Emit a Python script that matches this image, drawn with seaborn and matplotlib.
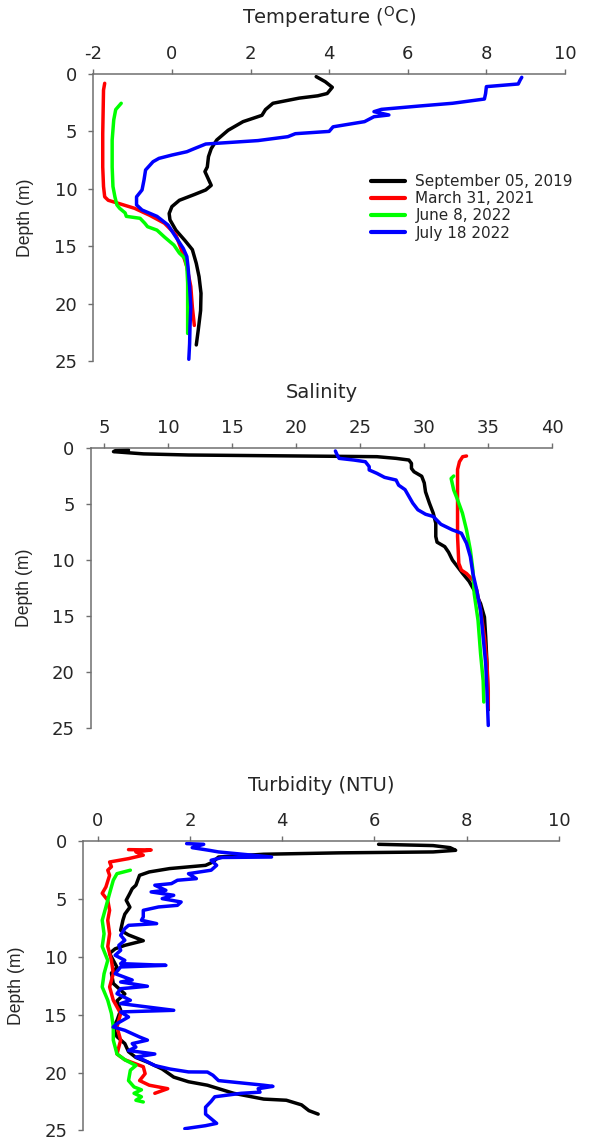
# -*- coding: utf-8 -*-
"""
Depth profiles: temperature, salinity, turbidity (4 cruises)
"""
import numpy as np
import pandas as pd
import seaborn as sns
import matplotlib.pyplot as plt

# ===== data =====
DATES = ["September 05, 2019", "March 31, 2021", "June 8, 2022", "July 18 2022"]
COLORS = ["#000000", "#FF0000", "#00FF00", "#0000FF"]

# --- temperature (°C) ---
t_sep_d = [0.23, 0.67, 1.16, 1.7, 1.9, 2.1, 2.55, 3.1, 3.6, 4.15, 4.9, 5.75, 6.5, 7.2, 8.1, 8.5, 8.95, 9.7,
           10.1, 10.5, 11.0, 11.55, 12.15, 12.7, 13.6, 14.5, 15.3, 16.5, 17.65, 19.1, 20.6, 22.3, 23.6]
t_sep_v = [3.67, 3.9, 4.08, 3.95, 3.71, 3.24, 2.57, 2.38, 2.29, 1.81, 1.43, 1.14, 1.0, 0.93, 0.9, 0.84, 0.9, 1.0,
           0.86, 0.57, 0.19, 0.0, -0.07, -0.05, 0.1, 0.33, 0.52, 0.62, 0.69, 0.74, 0.73, 0.67, 0.62]
t_mar_d = [0.81, 1.4, 5.2, 8.1, 9.8, 10.7, 11.0, 11.3, 11.7, 12.3, 13.0, 14.0, 15.3, 16.8, 18.5, 20.3, 21.9]
t_mar_v = [-1.71, -1.74, -1.76, -1.76, -1.74, -1.71, -1.62, -1.33, -0.95, -0.57, -0.19, 0.1, 0.24, 0.38, 0.48, 0.52, 0.57]
t_jun_d = [2.55, 3.1, 4.0, 5.75, 8.1, 9.8, 10.7, 11.4, 11.7, 12.1, 12.4, 12.57, 13.0, 13.3, 13.6, 14.2, 14.9,
           15.6, 16.05, 16.8, 18.2, 19.7, 21.1, 22.6]
t_jun_v = [-1.29, -1.43, -1.48, -1.52, -1.52, -1.5, -1.45, -1.4, -1.33, -1.19, -1.16, -0.81, -0.69, -0.62, -0.38,
           -0.19, 0.05, 0.19, 0.33, 0.38, 0.4, 0.4, 0.4, 0.4]
t_jul_d = [0.29, 0.52, 0.87, 1.1, 1.7, 2.18, 2.55, 2.79, 3.08, 3.28, 3.57, 3.72, 4.15, 4.6, 5.0, 5.2, 5.46, 5.8,
           6.1, 6.5, 6.77, 7.06, 7.35, 7.64, 8.36, 9.23, 10.1, 10.7, 11.4, 11.85, 12.4, 13.15, 14.2, 15.2, 15.9,
           16.8, 18.5, 20.3, 22.0, 23.5, 24.85]
t_jul_v = [8.9, 8.86, 8.81, 8.0, 7.98, 7.95, 7.14, 6.29, 5.33, 5.14, 5.52, 5.14, 4.9, 4.1, 4.0, 3.14, 2.95, 2.19,
           0.86, 0.57, 0.38, 0.0, -0.33, -0.48, -0.67, -0.71, -0.76, -0.9, -0.9, -0.76, -0.38, -0.1, 0.1, 0.29, 0.38,
           0.41, 0.45, 0.48, 0.46, 0.45, 0.43]

# --- salinity ---
s_sep_d = [0.15, 0.2, 0.3, 0.4, 0.5, 0.6, 0.69, 0.75, 0.9, 1.05, 1.35, 1.8, 2.1, 2.5, 3.1, 3.9, 4.9, 5.8, 6.7, 7.9,
           8.4, 8.8, 9.3, 10.0, 10.6, 11.2, 11.9, 12.7, 13.9, 15.1, 16.9, 19.3, 21.4, 23.4]
s_sep_v = [6.9, 5.9, 5.73, 6.9, 8.08, 11.6, 20.4, 26.3, 27.8, 28.8, 29.0, 29.0, 29.2, 29.8, 30.0, 30.1, 30.4, 30.7,
           30.9, 30.9, 31.0, 31.6, 31.9, 32.2, 32.6, 33.0, 33.5, 33.9, 34.4, 34.7, 34.8, 34.9, 34.95, 35.0]
s_mar_d = [0.69, 0.75, 1.2, 1.9, 4.9, 7.9, 10.3, 10.9, 11.2, 11.8, 12.7, 14.5, 16.9, 19.3, 21.7, 23.3]
s_mar_v = [33.3, 33.0, 32.75, 32.6, 32.6, 32.6, 32.7, 32.9, 33.3, 33.8, 34.1, 34.4, 34.7, 34.9, 35.0, 35.0]
s_jun_d = [2.48, 2.7, 3.73, 4.6, 5.8, 7.3, 9.1, 10.9, 13.0, 15.4, 18.4, 20.8, 22.7]
s_jun_v = [32.3, 32.1, 32.3, 32.6, 32.98, 33.3, 33.6, 33.8, 33.9, 34.2, 34.4, 34.6, 34.65]
s_jul_d = [0.24, 0.6, 0.9, 1.05, 1.2, 1.64, 1.94, 2.24, 2.6, 2.84, 3.3, 3.7, 4.3, 4.9, 5.5, 5.9, 6.1, 6.8, 7.3, 7.6,
           8.5, 9.7, 11.2, 12.7, 14.5, 16.9, 19.3, 21.7, 24.8]
s_jul_v = [23.06, 23.2, 23.35, 24.5, 25.4, 25.7, 25.7, 26.3, 26.9, 27.8, 28.0, 28.5, 28.8, 29.1, 29.5, 30.1, 30.7,
           31.3, 32.2, 32.9, 33.3, 33.6, 33.8, 34.1, 34.4, 34.6, 34.8, 34.9, 35.0]

# --- turbidity (NTU) ---
n_sep_d = [0.26, 0.37, 0.55, 0.78, 0.92, 1.0, 1.12, 1.36, 1.79, 2.08, 2.36, 2.65, 2.94, 3.8, 4.1, 4.5, 5.1, 5.7,
           6.3, 6.8, 7.7, 8.1, 8.6, 9.0, 9.3, 9.7, 10.3, 10.9, 11.4, 12.3, 13.2, 13.8, 14.6, 15.5, 16.1, 16.9, 17.5,
           18.2, 18.7, 19.1, 19.7, 20.4, 20.8, 21.1, 21.8, 22.3, 22.4, 22.8, 23.3, 23.6]
n_sep_v = [6.09, 7.27, 7.64, 7.76, 7.27, 5.23, 3.6, 2.62, 2.5, 2.34, 1.56, 1.12, 0.91, 0.83, 0.75, 0.7, 0.62, 0.7,
           0.59, 0.55, 0.5, 0.67, 0.99, 0.59, 0.38, 0.26, 0.34, 0.42, 0.3, 0.34, 0.59, 0.42, 0.5, 0.42, 0.34, 0.42,
           0.59, 0.67, 0.83, 1.08, 1.4, 1.65, 1.97, 2.38, 2.95, 3.6, 4.09, 4.42, 4.58, 4.78]
n_mar_d = [0.72, 0.75, 0.92, 1.2, 1.5, 1.79, 2.2, 2.5, 2.94, 3.95, 4.5, 5.1, 5.97, 6.83, 8.0, 9.1, 10.3, 11.45,
           12.6, 13.75, 14.9, 16.06, 17.2, 18.4, 18.9, 19.5, 20.1, 20.7, 21.1, 21.4, 21.8]
n_mar_v = [0.67, 1.16, 0.83, 0.99, 0.67, 0.26, 0.3, 0.22, 0.26, 0.18, 0.1, 0.22, 0.26, 0.22, 0.26, 0.22, 0.3, 0.34,
           0.26, 0.34, 0.5, 0.42, 0.5, 0.42, 0.59, 0.99, 1.03, 0.91, 1.12, 1.52, 1.24]
n_jun_d = [2.5, 2.8, 3.37, 4.5, 5.68, 6.83, 8.0, 9.1, 10.3, 11.45, 12.6, 13.75, 14.9, 16.06, 17.2, 18.4, 18.9,
           19.4, 19.8, 20.7, 21.25, 21.5, 21.8, 22.1, 22.4, 22.55]
n_jun_v = [0.71, 0.42, 0.34, 0.26, 0.18, 0.1, 0.14, 0.1, 0.22, 0.14, 0.1, 0.22, 0.3, 0.34, 0.34, 0.42, 0.59, 0.83,
           0.71, 0.67, 0.79, 0.95, 0.79, 0.95, 0.83, 0.99]
n_jul_d = [0.2, 0.26, 0.55, 0.78, 0.92, 1.36, 1.4, 1.64, 2.08, 2.5, 2.8, 3.23, 3.37, 3.66, 3.8, 4.24, 4.38, 4.67,
           4.96, 5.25, 5.54, 5.68, 5.97, 6.55, 6.83, 7.12, 7.27, 7.55, 8.13, 8.56, 9.0, 9.43, 9.86, 10.3, 10.58,
           10.73, 10.87, 11.45, 12.0, 12.17, 12.54, 12.75, 13.18, 13.75, 14.04, 14.62, 14.76, 15.2, 15.77, 16.06,
           16.35, 16.93, 17.2, 17.5, 17.8, 18.1, 18.4, 18.66, 18.9, 19.4, 19.7, 19.95, 19.96, 20.24, 20.7, 21.1,
           21.2, 21.4, 21.7, 21.8, 22.1, 22.5, 23.0, 23.6, 24.0, 24.4, 24.6, 24.86]
n_jul_v = [1.93, 2.3, 2.05, 2.42, 2.62, 3.77, 2.7, 2.46, 2.58, 2.46, 1.97, 2.14, 1.73, 1.6, 1.24, 1.48, 1.16, 1.65,
           1.4, 1.81, 1.73, 1.32, 0.99, 0.99, 0.95, 1.28, 0.67, 0.59, 0.5, 0.59, 0.46, 0.5, 0.38, 0.59, 0.5, 1.48,
           0.5, 0.38, 0.75, 0.5, 1.08, 0.5, 0.42, 0.71, 0.5, 1.65, 0.5, 0.67, 0.42, 0.34, 0.59, 0.91, 1.08, 0.75,
           0.83, 0.67, 1.24, 0.83, 0.99, 1.24, 1.57, 1.97, 2.38, 2.5, 2.62, 3.6, 3.8, 3.48, 3.52, 3.11, 2.54, 2.46,
           2.34, 2.34, 2.46, 2.58, 2.34, 1.89]


def long_df(pairs):
    frames = []
    for date, (d, v) in zip(DATES, pairs):
        frames.append(pd.DataFrame({"depth": d, "value": v, "date": date}))
    return pd.concat(frames, ignore_index=True)


df_t = long_df([(t_sep_d, t_sep_v), (t_mar_d, t_mar_v), (t_jun_d, t_jun_v), (t_jul_d, t_jul_v)])
df_s = long_df([(s_sep_d, s_sep_v), (s_mar_d, s_mar_v), (s_jun_d, s_jun_v), (s_jul_d, s_jul_v)])
df_n = long_df([(n_sep_d, n_sep_v), (n_mar_d, n_mar_v), (n_jun_d, n_jun_v), (n_jul_d, n_jul_v)])

# ===== plot =====
sns.set_style("ticks")
plt.rcParams["font.family"] = ["DejaVu Sans"]
plt.rcParams["axes.unicode_minus"] = False
palette = dict(zip(DATES, COLORS))

W, H = 590, 1142
fig = plt.figure(figsize=(W / 100, H / 100), dpi=100)
# axes boxes in pixels: left, right, top, bottom
boxes = [(93.3, 565.0, 74.0, 361.0), (90.7, 552.3, 448.3, 727.7), (83.3, 559.0, 841.3, 1130.3)]
axes = [fig.add_axes([l / W, 1 - b / H, (r - l) / W, (b - t) / H]) for l, r, t, b in boxes]
ylabel_x = [34.0, 33.5, 25.5]  # right edge of rotated "Depth (m)", px

panels = [
    (df_t, r"Temperature ($^{\mathrm{O}}$C)", (-2, 10), np.arange(-2, 11, 2), True),
    (df_s, "Salinity", (3.95, 40), np.arange(5, 41, 5), False),
    (df_n, "Turbidity (NTU)", (-0.31, 10), np.arange(0, 11, 2), False),
]

for ax, box, lx, (df, title, xlim, xticks, show_legend) in zip(axes, boxes, ylabel_x, panels):
    sns.lineplot(data=df, x="value", y="depth", hue="date", palette=palette, hue_order=DATES,
                 sort=False, estimator=None, orient="y", linewidth=2.5, ax=ax, legend=show_legend)
    ax.set_xlim(*xlim)
    ax.set_ylim(25, 0)
    ax.set_xticks(xticks)
    ax.set_yticks(np.arange(0, 26, 5))
    ax.xaxis.tick_top()
    ax.xaxis.set_label_position("top")
    ax.set_xlabel(title, fontsize=14, labelpad=15)
    ax.set_ylabel("Depth (m)", fontsize=12.7, family=["Liberation Sans", "DejaVu Sans"])
    ax.yaxis.set_label_coords((lx - box[0]) / (box[1] - box[0]), 0.5)
    ax.tick_params(labelsize=13, length=3.6, width=1, color="#6f6f6f")
    ax.tick_params(axis="x", pad=4.5)
    ax.tick_params(axis="y", pad=8)
    for side in ["right", "bottom"]:
        ax.spines[side].set_visible(False)
    for side in ["top", "left"]:
        ax.spines[side].set_color("#6f6f6f")
        ax.spines[side].set_linewidth(1.1)

leg = axes[0].legend(loc="upper left", bbox_to_anchor=(0.589, 0.652), frameon=False, fontsize=11,
                     handlelength=2.2, handletextpad=0.7, labelspacing=0.15, borderpad=0, borderaxespad=0)
for line in leg.get_lines():
    line.set_linewidth(3)

fig.savefig("out.png", dpi=100)
